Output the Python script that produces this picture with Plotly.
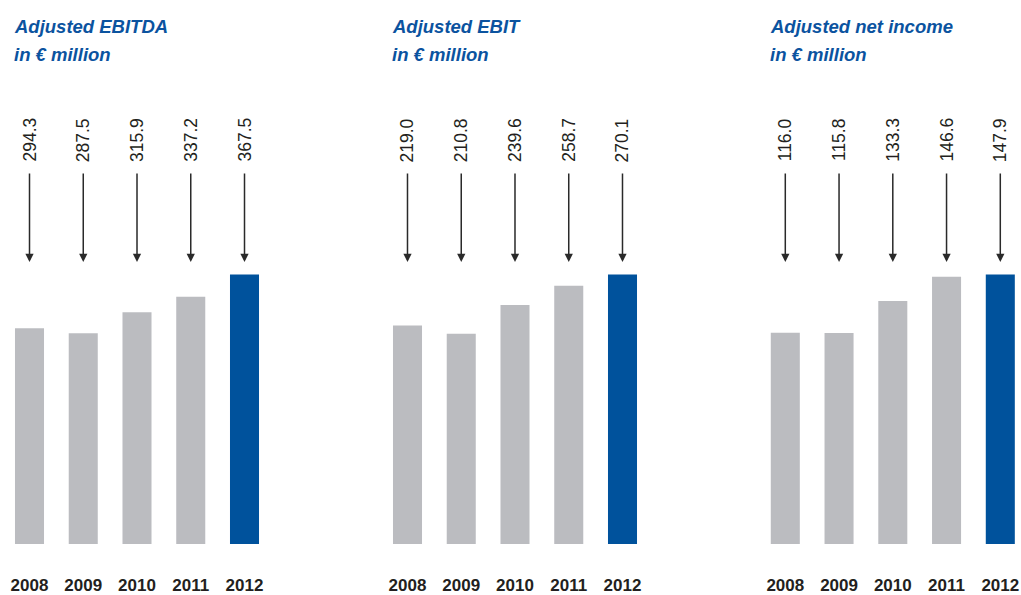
import plotly.graph_objects as go

years = ["2008", "2009", "2010", "2011", "2012"]
title_line1 = ["Adjusted EBITDA", "Adjusted EBIT", "Adjusted net income"]
title_line2 = ["in € million", "in € million", "in € million"]
ebitda = [294.3, 287.5, 315.9, 337.2, 367.5]
ebit = [219.0, 210.8, 239.6, 258.7, 270.1]
net_income = [116.0, 115.8, 133.3, 146.6, 147.9]
series = [ebitda, ebit, net_income]

W, H = 1021, 595
MB = 51
PH = H - MB
GRAY = "#BBBCC0"
BLUE = "#00529C"
TXT = "#231F20"
TITLE_C = "#0B539F"
FONT = "Liberation Sans, Arial, Helvetica, sans-serif"

step = 53.75
c0s = [29.5, 407.5, 785.3]
rng = [-0.5, 4.38]

def py(px):
    return (PH - px) / PH

fig = go.Figure()
annotations = []
for k, vals in enumerate(series):
    xa = "x" if k == 0 else f"x{k+1}"
    ya = "y" if k == 0 else f"y{k+1}"
    colors = [GRAY] * (len(vals) - 1) + [BLUE]
    fig.add_trace(go.Bar(x=years, y=vals, marker=dict(color=colors, line=dict(width=0)),
                         xaxis=xa, yaxis=ya, hoverinfo="skip", showlegend=False))
    left = c0s[k] - 0.5 * step
    right = left + (rng[1] - rng[0]) * step
    axkey = "xaxis" if k == 0 else f"xaxis{k+1}"
    aykey = "yaxis" if k == 0 else f"yaxis{k+1}"
    ymax = max(vals) * PH / 269.5
    fig.update_layout(**{
        axkey: dict(domain=[left / W, min(right / W, 1)], range=rng, type="category",
                    showgrid=False, zeroline=False, showline=False, ticks="",
                    tickfont=dict(family=FONT, size=17, color=TXT, weight="bold"),
                    ticklabelstandoff=29, anchor=ya, fixedrange=True),
        aykey: dict(domain=[0, 1], range=[0, ymax], visible=False, anchor=xa, fixedrange=True),
    })
    for line, ypx in ((title_line1[k], 26), (title_line2[k], 55)):
        annotations.append(dict(xref=xa, yref="paper", x=-0.32, y=py(ypx), xanchor="left",
                                yanchor="middle", text="<b><i>" + line + "</i></b>",
                                showarrow=False, align="left",
                                font=dict(family=FONT, size=18.5, color=TITLE_C)))
    for i, (yr, v) in enumerate(zip(years, vals)):
        annotations.append(dict(xref=xa, yref="paper", x=i, y=py(262), ax=0, ay=-90,
                                axref="pixel", ayref="pixel", text="", showarrow=True,
                                arrowhead=2, arrowsize=1.1, arrowwidth=1.5, arrowcolor="#2A2A2A",
                                standoff=0, startstandoff=0))
        annotations.append(dict(xref=xa, yref="paper", x=i, y=py(140), text=f"{v:.1f}",
                                textangle=-90, showarrow=False, xanchor="center",
                                yanchor="middle",
                                font=dict(family=FONT, size=17.5, color=TXT)))

fig.update_layout(width=W, height=H, margin=dict(l=0, r=0, t=0, b=MB),
                  paper_bgcolor="white", plot_bgcolor="white", bargap=0.46,
                  annotations=annotations)
fig.write_html("out.html", config={"displayModeBar": False},
               post_script="document.body.style.margin='0';")
